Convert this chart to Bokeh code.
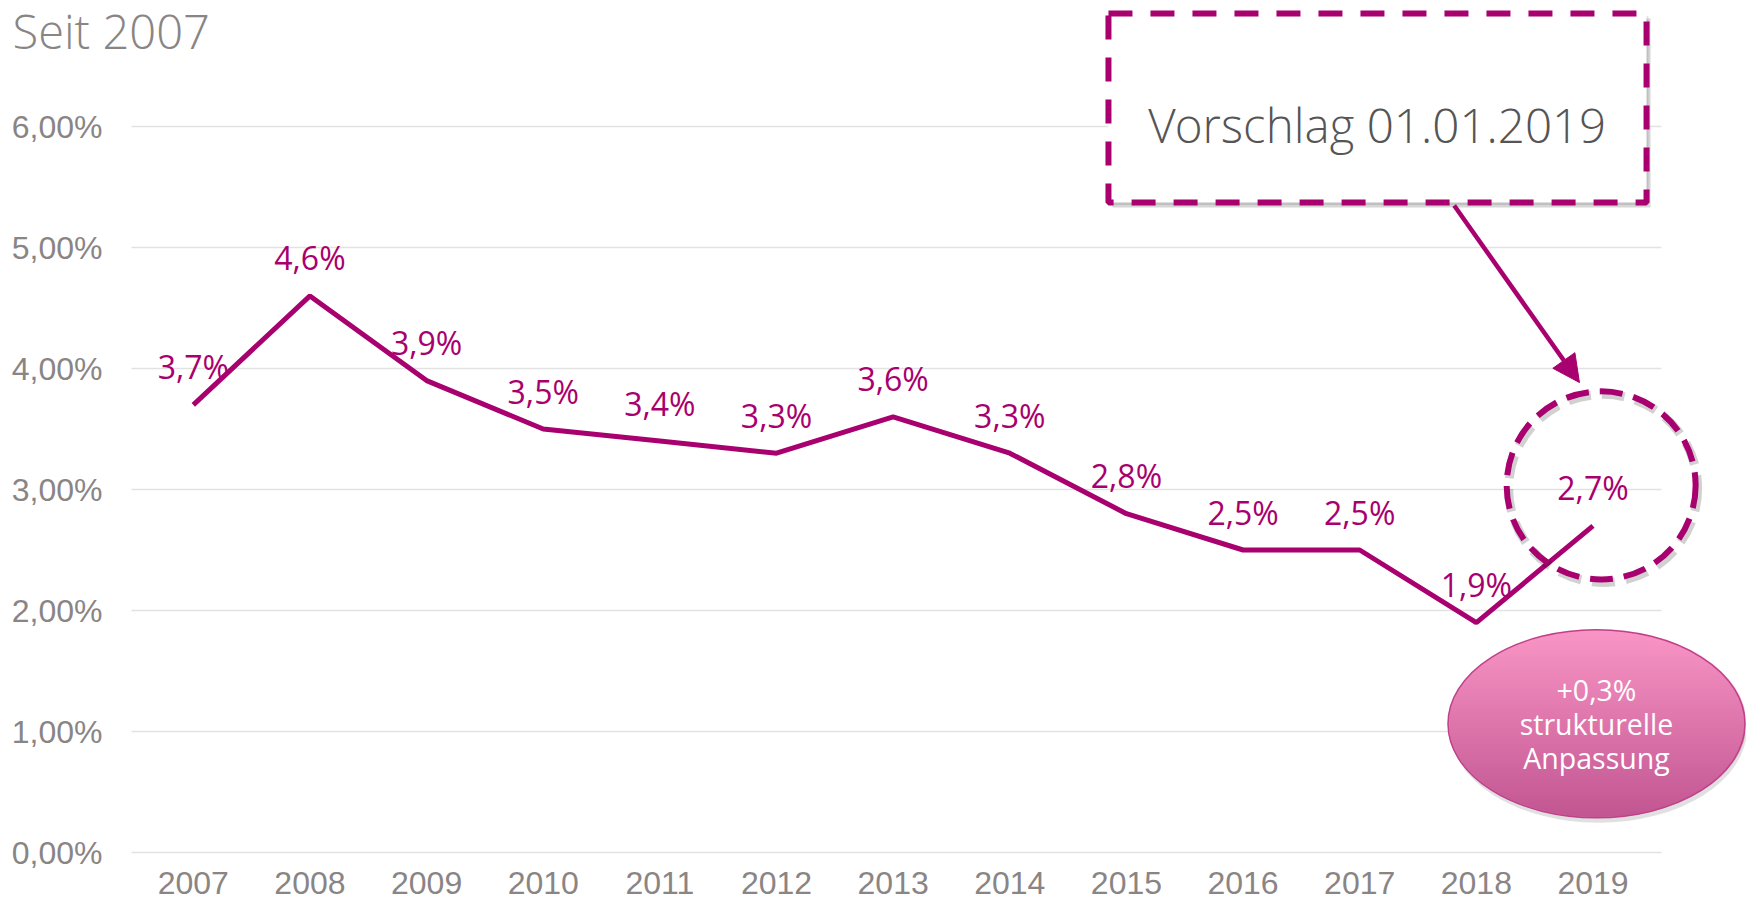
import numpy as np
from bokeh.plotting import figure
from bokeh.models import Range1d, FixedTicker, Label, Arrow, NormalHead
from bokeh.core.properties import value
from bokeh.embed import file_html
from bokeh.resources import INLINE

# ---------------- data ----------------
years = [2007, 2008, 2009, 2010, 2011, 2012, 2013, 2014, 2015, 2016, 2017, 2018, 2019]
rates = [3.7, 4.6, 3.9, 3.5, 3.4, 3.3, 3.6, 3.3, 2.8, 2.5, 2.5, 1.9, 2.7]
rate_labels = ["3,7%", "4,6%", "3,9%", "3,5%", "3,4%", "3,3%", "3,6%",
               "3,3%", "2,8%", "2,5%", "2,5%", "1,9%", "2,7%"]
y_ticks = [0, 1, 2, 3, 4, 5, 6]
y_tick_labels = ["0,00%", "1,00%", "2,00%", "3,00%", "4,00%", "5,00%", "6,00%"]
x_tick_labels = ["2007", "2008", "2009", "2010", "2011", "2012", "2013",
                 "2014", "2015", "2016", "2017", "2018", "2019"]
title_text = "Seit 2007"
callout_text = "Vorschlag 01.01.2019"
bubble_lines = ["+0,3%", "strukturelle", "Anpassung"]

# ---------------- geometry / style ----------------
MAG = "#a8006e"
GRAY = "#8a8585"
PX_YEAR = 116.64          # pixels per year
PX_PCT = 121.0            # pixels per percentage point
W_CANVAS, H_CANVAS = 1746, 903
FRAME_BOTTOM = 887
X_START = 2005.347
X_END = X_START + W_CANVAS / PX_YEAR
GRID_START = 2006.47
GRID_END = 2019.587
Y_END = 6 + 126 / PX_PCT
Y_START = -(FRAME_BOTTOM - 852) / PX_PCT

p = figure(width=W_CANVAS, height=H_CANVAS, output_backend="svg", toolbar_location=None,
           x_range=Range1d(X_START, X_END), y_range=Range1d(Y_START, Y_END),
           min_border_left=0, min_border_right=0, min_border_top=0,
           min_border_bottom=H_CANVAS - FRAME_BOTTOM)
p.outline_line_color = None
p.background_fill_color = "white"
p.border_fill_color = "white"
p.xgrid.visible = False
p.ygrid.visible = False

# axes
p.yaxis.ticker = FixedTicker(ticks=y_ticks)
p.yaxis.major_label_overrides = {t: l for t, l in zip(y_ticks, y_tick_labels)}
p.xaxis.ticker = FixedTicker(ticks=years)
p.xaxis.major_label_overrides = {t: l for t, l in zip(years, x_tick_labels)}
for ax in (p.xaxis, p.yaxis):
    ax.axis_line_color = None
    ax.major_tick_line_color = None
    ax.minor_tick_line_color = None
    ax.major_tick_out = 0
    ax.major_tick_in = 0
    ax.minor_tick_out = 0
    ax.minor_tick_in = 0
    ax.major_label_text_font = "Liberation Sans"
    ax.major_label_text_color = GRAY
p.yaxis.major_label_text_font_size = "32px"
p.xaxis.major_label_text_font_size = "32px"
p.yaxis.major_label_standoff = -102
p.xaxis.major_label_standoff = -16

# gridlines
p.segment(x0=[GRID_START] * len(y_ticks), x1=[GRID_END] * len(y_ticks), y0=y_ticks, y1=y_ticks,
          line_color="#e2e2e2", line_width=1.6)

# main line
p.line(years, rates, line_color=MAG, line_width=5)

# data labels
label_dy = 38 / PX_PCT
p.text(x=years, y=[r + label_dy for r in rates], text=rate_labels,
       text_font=value("Open Sans"), text_font_size="32px", text_color=MAG,
       text_align="center", text_baseline="middle")

# dashed circle around 2019 value
cx, cy, cw, ch = 2019.07, 3.034, 1.62, 1.554
p.ellipse(x=[cx + 2 / PX_YEAR], y=[cy - 3 / PX_PCT], width=cw, height=ch, fill_color=None,
          line_color="#000000", line_alpha=0.18, line_width=9, line_dash="23 11")
p.ellipse(x=[cx], y=[cy], width=cw, height=ch, fill_color=None,
          line_color=MAG, line_width=6, line_dash="23 11")

# gradient bubble
ex, ey, ew, eh = 2019.03, 1.064, 2.546, 1.554
W, H = 298, 188
jj, ii = np.meshgrid(np.arange(W), np.arange(H))
nx = (jj + 0.5 - W / 2) / (W / 2)
ny = (ii + 0.5 - H / 2) / (H / 2)
rr = np.sqrt(nx ** 2 + ny ** 2)
alpha = np.clip((1 - rr) * (H / 2) + 0.5, 0, 1)
t = (ii / (H - 1.0))  # 0 bottom, 1 top
top = np.array([250, 150, 198], float)
bot = np.array([194, 86, 146], float)
img = np.zeros((H, W), dtype=np.uint32)
view = img.view(dtype=np.uint8).reshape((H, W, 4))
for k in range(3):
    view[:, :, k] = (bot[k] + (top[k] - bot[k]) * t).astype(np.uint8)
view[:, :, 3] = (alpha * 255).astype(np.uint8)
p.ellipse(x=[ex + 2 / PX_YEAR], y=[ey - 5 / PX_PCT], width=ew, height=eh,
          fill_color="#000000", fill_alpha=0.12, line_color=None)
p.image_rgba(image=[img], x=ex - ew / 2, y=ey - eh / 2, dw=ew, dh=eh)
p.ellipse(x=[ex], y=[ey], width=ew, height=eh, fill_color=None, line_color="#c0408a", line_width=1.5)
p.text(x=[ex] * 3, y=[1.339, 1.066, 0.785], text=bubble_lines,
       text_font=value("Open Sans"), text_font_size="28.5px", text_color="white",
       text_align="center", text_baseline="middle")

# callout box
bx0, bx1, by0, by1 = 2014.846, 2019.459, 5.372, 6.934
p.quad(left=[bx0 + 4 / PX_YEAR], right=[bx1 + 4 / PX_YEAR], bottom=[by0 - 5 / PX_PCT], top=[by1 - 5 / PX_PCT],
       fill_color="#000000", fill_alpha=0.16, line_color=None)
p.quad(left=[bx0 + 2 / PX_YEAR], right=[bx1 + 2 / PX_YEAR], bottom=[by0 - 2.5 / PX_PCT], top=[by1 - 2.5 / PX_PCT],
       fill_color="#000000", fill_alpha=0.10, line_color=None)
p.quad(left=[bx0], right=[bx1], bottom=[by0], top=[by1], fill_color="white",
       line_color=MAG, line_width=6, line_dash="24 18")
p.text(x=[2017.15], y=[6.0165], text=[callout_text],
       text_font=value("Open Sans Light, Open Sans"), text_font_size="47.5px", text_color="#555555",
       text_align="center", text_baseline="alphabetic")

# arrow
p.add_layout(Arrow(end=NormalHead(size=27, fill_color=MAG, line_color=MAG),
                   x_start=2017.81, y_start=5.347, x_end=2018.884, y_end=3.884,
                   line_color=MAG, line_width=4.5))

# title
p.add_layout(Label(x=2005.45, y=6.79, text=title_text, text_font="Open Sans Light, Open Sans",
                   text_font_size="47px", text_color=GRAY, text_baseline="alphabetic"))

open("out.html", "w").write(file_html(p, INLINE, title="Seit 2007"))
